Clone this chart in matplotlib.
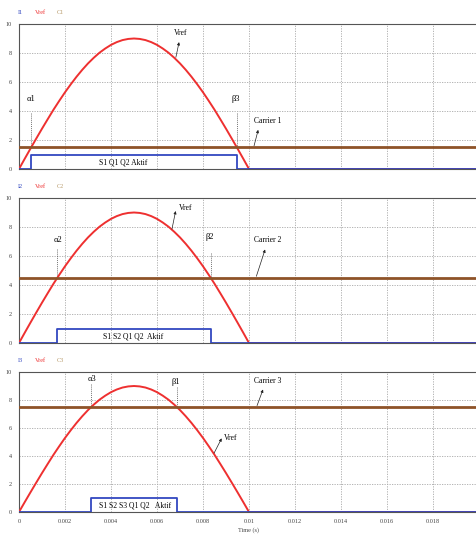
import numpy as np
import matplotlib
matplotlib.use('Agg')
import matplotlib.pyplot as plt

plt.rcParams['font.family'] = ['Liberation Serif', 'DejaVu Serif']

# Vref half-wave, sampled every 0.25 ms over 0..10 ms (V), zero afterwards
t_half = np.linspace(0, 0.01, 41)
v_half = [0.00, 0.71, 1.41, 2.10, 2.78, 3.44, 4.09, 4.70, 5.29, 5.84,
          6.36, 6.84, 7.28, 7.67, 8.02, 8.31, 8.56, 8.75, 8.89, 8.97,
          9.00, 8.97, 8.89, 8.75, 8.56, 8.31, 8.02, 7.67, 7.28, 6.84,
          6.36, 5.84, 5.29, 4.70, 4.09, 3.44, 2.78, 2.10, 1.41, 0.71,
          0.00]

# carrier levels and gate pulses for the three panels
carrier_levels = [1.5, 4.5, 7.5]
gate_on = [0.00053, 0.00167, 0.00313]
gate_off = [0.00947, 0.00833, 0.00687]
gate_high = 1.0
t_end = 0.02

gate_labels = ['S1 Q1 Q2 Aktif', 'S1 S2 Q1 Q2  Aktif', 'S1 S2 S3 Q1 Q2   Aktif']
carrier_names = ['Carrier 1', 'Carrier 2', 'Carrier 3']
trace_names = [['I1', 'Vref', 'C1'], ['I2', 'Vref', 'C2'], ['I3', 'Vref', 'C3']]
angle_names = [['α1', 'β3'], ['α2', 'β2'], ['α3', 'β1']]

xticks = [0, 0.002, 0.004, 0.006, 0.008, 0.01, 0.012, 0.014, 0.016, 0.018]
xtick_labels = ['0', '0.002', '0.004', '0.006', '0.008', '0.01', '0.012', '0.014', '0.016', '0.018']
yticks = [0, 2, 4, 6, 8, 10]

t_ref = list(t_half) + [t_end]
v_ref = v_half + [0.0]

RED = '#ee3030'
BROWN = '#8e5328'
BLUE = '#3348c0'
TAN = '#b89a6a'

W, H = 476, 536
fig = plt.figure(figsize=(W / 100, H / 100), dpi=100)

# axes boxes in pixels: (top, bottom)
boxes = [(24, 169), (198, 343), (372, 512)]
left_px = 19
width_px = 460

# label layout per panel: vref text, vref arrow head/tail, alpha, beta, carrier text, carrier arrow, gate label
layout = [
    dict(vref_txt=(0.00704, 9.38), vref_arrow=((0.00696, 8.75), (0.00682, 7.7)),
         alpha=((0.00052, 4.85), (3.85, 1.5)), beta=((0.00943, 4.8), (3.85, 1.5)),
         car_txt=(0.01083, 3.3), car_arrow=((0.01040, 2.7), (0.01022, 1.6)),
         gate_txt=(0.00452, 0.42)),
    dict(vref_txt=(0.00726, 9.33), vref_arrow=((0.00681, 9.1), (0.00665, 7.85)),
         alpha=((0.0017, 7.1), (6.5, 4.5)), beta=((0.0083, 7.3), (6.2, 4.5)),
         car_txt=(0.01083, 7.1), car_arrow=((0.01070, 6.45), (0.01032, 4.6)),
         gate_txt=(0.00496, 0.47)),
    dict(vref_txt=(0.00922, 5.27), vref_arrow=((0.00881, 5.26), (0.00848, 4.2)),
         alpha=((0.00317, 9.52), (9.15, 7.5)), beta=((0.00683, 9.3), (8.95, 7.5)),
         car_txt=(0.01083, 9.37), car_arrow=((0.01061, 8.75), (0.01035, 7.6)),
         gate_txt=(0.00504, 0.48)),
]

for i, (top, bot) in enumerate(boxes):
    ax = fig.add_axes([left_px / W, 1 - bot / H, width_px / W, (bot - top) / H])
    lay = layout[i]

    ax.plot(t_ref, v_ref, color=RED, lw=1.4, zorder=3)
    ax.axhline(carrier_levels[i], color=BROWN, lw=2.0, zorder=3)
    gx = [0, gate_on[i], gate_on[i], gate_off[i], gate_off[i], t_end]
    gy = [0, 0, gate_high, gate_high, 0, 0]
    ax.plot(gx, gy, color=BLUE, lw=1.3, zorder=4)

    ax.set_xlim(0, t_end)
    ax.set_ylim(0, 10)
    ax.set_xticks(xticks)
    ax.set_yticks(yticks)
    ax.set_yticklabels([str(v) for v in yticks], fontsize=4.5, color='#444444')
    if i == 2:
        ax.set_xticklabels(xtick_labels, fontsize=4.5, color='#444444')
        ax.set_xlabel('Time (s)', fontsize=4.5, color='#444444', labelpad=2)
    else:
        ax.set_xticklabels([])
    ax.tick_params(length=0, pad=5)
    ax.grid(True, color='#a8a8a8', ls=(0, (1.5, 1.5)), lw=0.6)
    for s in ax.spines.values():
        s.set_color('#555555')
        s.set_linewidth(0.8)

    # trace names above each panel
    for name, x, c in zip(trace_names[i], [20, 40, 60], [BLUE, RED, TAN]):
        fig.text(x / W, 1 - (top - 12) / H, name, color=c, fontsize=4.5,
                 ha='center', va='center')

    arrow = dict(arrowstyle='-|>', lw=0.5, color='#222222', mutation_scale=4,
                 shrinkA=0, shrinkB=0)

    ax.text(*lay['vref_txt'], 'Vref', fontsize=5.5, ha='center', va='center')
    head, tail = lay['vref_arrow']
    ax.annotate('', xy=head, xytext=tail, arrowprops=arrow)

    (ax_, ay_), (y0, y1) = lay['alpha']
    ax.text(ax_, ay_, angle_names[i][0], fontsize=6, ha='center', va='center')
    ax.plot([gate_on[i]] * 2, [y0, y1], color='#444444', lw=0.5, ls=(0, (1.5, 1.5)))
    (bx, by), (y0, y1) = lay['beta']
    ax.text(bx, by, angle_names[i][1], fontsize=6, ha='center', va='center')
    ax.plot([gate_off[i]] * 2, [y0, y1], color='#444444', lw=0.5, ls=(0, (1.5, 1.5)))

    ax.text(*lay['car_txt'], carrier_names[i], fontsize=5.5, ha='center', va='center')
    head, tail = lay['car_arrow']
    ax.annotate('', xy=head, xytext=tail, arrowprops=arrow)

    ax.text(*lay['gate_txt'], gate_labels[i], fontsize=5.5, ha='center', va='center',
            zorder=5)

fig.savefig('out.png', dpi=100)
